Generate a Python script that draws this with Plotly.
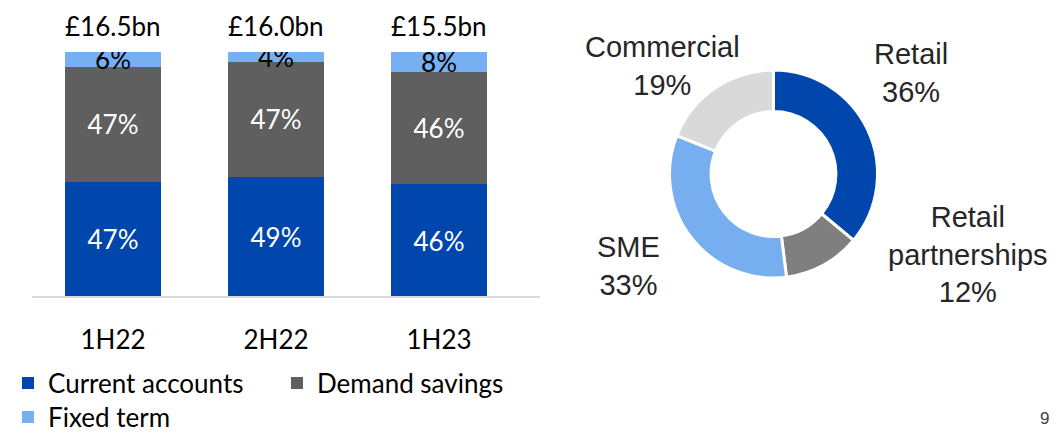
import plotly.graph_objects as go

# ── data ────────────────────────────────────────────────────────────────────
periods = ["1H22", "2H22", "1H23"]
totals = ["£16.5bn", "£16.0bn", "£15.5bn"]
current_accounts = [47, 49, 46]
demand_savings = [47, 47, 46]
fixed_term = [6, 4, 8]

segments = ["Retail", "Retail partnerships", "SME", "Commercial"]
segment_share = [36, 12, 33, 19]
segment_labels = ["Retail", "Retail<br>partnerships", "SME", "Commercial"]

BLUE = "#0046AD"
DARK_GREY = "#5F5F5F"
LIGHT_BLUE = "#77B0F2"
BAR_FONT = "Lato"
PIE_FONT = "Liberation Sans, Arial"

# page body has an 8px margin, so the figure is shrunk to fit the window
OFF = 8
W, H = 1058 - OFF, 434 - OFF


def px(sx):
    return (sx - OFF) / W


def py(sy):
    return 1 - (sy - OFF) / H


fig = go.Figure()

# ── stacked deposit mix bars ────────────────────────────────────────────────
series = [
    ("Current accounts", current_accounts, BLUE, "white", "legend"),
    ("Demand savings", demand_savings, DARK_GREY, "white", "legend"),
    ("Fixed term", fixed_term, LIGHT_BLUE, "black", "legend2"),
]
for name, vals, colour, txtcol, leg in series:
    fig.add_trace(go.Bar(
        x=periods, y=vals, name=name, legend=leg,
        marker=dict(color=colour, line=dict(width=0)),
        text=[f"{v}%" for v in vals], textposition="inside",
        insidetextanchor="middle", constraintext="none",
        textfont=dict(family=BAR_FONT, size=26, color=txtcol),
        xaxis="x", yaxis="y",
    ))

# totals above each bar
for p, t in zip(periods, totals):
    fig.add_annotation(x=p, y=100, xref="x", yref="y", text=t, showarrow=False,
                       yanchor="bottom", yshift=8,
                       font=dict(family=BAR_FONT, size=26, color="black"))

# ── donut ───────────────────────────────────────────────────────────────────
cx, cy, r = 773.5, 174, 104
fig.add_trace(go.Pie(
    labels=segments, values=segment_share, hole=0.6, sort=False,
    direction="clockwise", rotation=0, textinfo="none", showlegend=False,
    marker=dict(colors=[BLUE, "#7F7F7F", "#76AEF0", "#D9D9D9"],
                line=dict(color="white", width=3)),
    domain=dict(x=[px(cx - r), px(cx + r)], y=[py(cy + r), py(cy - r)]),
))

label_pos = [(911, 73), (968, 254), (628, 266), (662, 66)]
for lab, share, (lx, ly) in zip(segment_labels, segment_share, label_pos):
    fig.add_annotation(x=px(lx), y=py(ly), xref="paper", yref="paper",
                       text=f"{lab}<br>{share}%", showarrow=False,
                       xanchor="center", yanchor="middle", align="center",
                       font=dict(family=PIE_FONT, size=29, color="#262626"))

# page number
fig.add_annotation(x=px(1044), y=py(418), xref="paper", yref="paper",
                   text="9", showarrow=False, xanchor="center", yanchor="middle",
                   font=dict(family=PIE_FONT, size=17, color="#404040"))

# baseline under bars
fig.add_shape(type="line", xref="paper", yref="paper",
              x0=px(32), x1=px(540), y0=py(297), y1=py(297),
              line=dict(color="#D9D9D9", width=2))

fig.update_layout(
    width=W, height=H,
    margin=dict(l=0, r=0, t=0, b=0, autoexpand=False),
    paper_bgcolor="white", plot_bgcolor="white",
    barmode="stack", bargap=0.41,
    xaxis=dict(domain=[px(31.5), px(520.5)], showgrid=False, showline=False,
               ticks="outside", ticklen=20, tickcolor="rgba(0,0,0,0)",
               tickfont=dict(family=BAR_FONT, size=26, color="black")),
    yaxis=dict(domain=[py(297), py(52)], range=[0, 100],
               showgrid=False, showticklabels=False, zeroline=False),
    legend=dict(orientation="h", x=0, y=py(383),
                xanchor="left", yanchor="middle", traceorder="normal",
                entrywidth=224, entrywidthmode="pixels",
                font=dict(family=BAR_FONT, size=26, color="black")),
    legend2=dict(orientation="h", x=0, y=py(417),
                 xanchor="left", yanchor="middle",
                 font=dict(family=BAR_FONT, size=26, color="black")),
)

fig.write_html("out.html")
